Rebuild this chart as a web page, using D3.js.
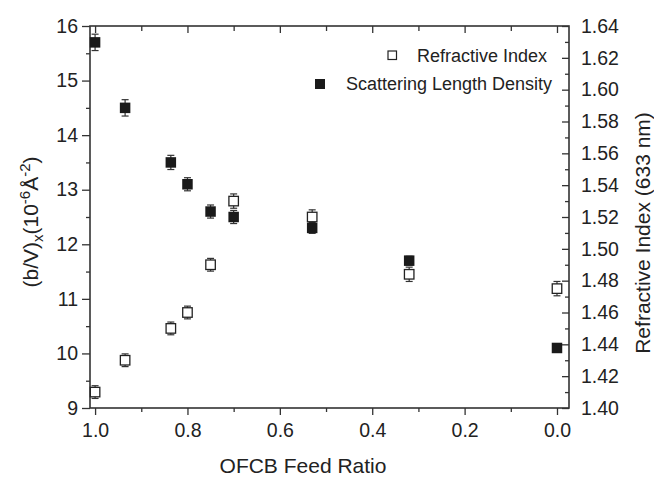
<!DOCTYPE html>
<html><head><meta charset="utf-8">
<script src="https://cdn.jsdelivr.net/npm/d3@7/dist/d3.min.js"></script>
<style>
body{margin:0;background:#fff}
svg{display:block}
text{font-family:"Liberation Sans",Arial,sans-serif;fill:#222}
</style>
</head><body><svg id="c" width="654" height="478"></svg>
<script>
// ---- data ----
const feedRatio = [1.0, 0.935, 0.836, 0.80, 0.75, 0.70, 0.53, 0.32, 0.0];
const sld       = [15.7, 14.5, 13.5, 13.1, 12.6, 12.5, 12.3, 11.7, 10.1];
const sldErr    = [0.15, 0.15, 0.13, 0.12, 0.12, 0.12, 0.10, 0.08, 0.05];
const ri        = [1.410, 1.430, 1.450, 1.460, 1.490, 1.530, 1.520, 1.484, 1.475];
const riErr     = [0.004, 0.004, 0.004, 0.004, 0.004, 0.0045, 0.0045, 0.0045, 0.0045];
const xTicks = [1.0, 0.8, 0.6, 0.4, 0.2, 0.0];
const xMinor = [0.9, 0.7, 0.5, 0.3, 0.1];
const yLTicks = [9, 10, 11, 12, 13, 14, 15, 16];
const yLMinor = [9.5, 10.5, 11.5, 12.5, 13.5, 14.5, 15.5];
const yRTicks = [1.40, 1.42, 1.44, 1.46, 1.48, 1.50, 1.52, 1.54, 1.56, 1.58, 1.60, 1.62, 1.64];
const yRMinor = [1.41, 1.43, 1.45, 1.47, 1.49, 1.51, 1.53, 1.55, 1.57, 1.59, 1.61, 1.63];
const seriesNames = ["Refractive Index", "Scattering Length Density"];

const svg = d3.select("#c");
const L = 90, R = 569, T = 26, B = 408;
const x = d3.scaleLinear().domain([1.011, -0.026]).range([L, R]);
const yL = d3.scaleLinear().domain([9, 16]).range([B, T]);
const yR = d3.scaleLinear().domain([1.40, 1.64]).range([B, T]);
const axisColor = "#333";
const tickFont = "19.5px";

function styleAxis(g){
  g.select(".domain").remove();
  g.selectAll("line").attr("stroke", axisColor).attr("stroke-width", 1.3);
  g.selectAll("text").attr("fill", "#222").style("font-family", '"Liberation Sans",Arial,sans-serif');
}

// bottom
svg.append("g").attr("transform", `translate(0,${B})`)
  .call(d3.axisBottom(x).tickValues(xTicks).tickSize(7).tickPadding(8).tickFormat(d3.format(".1f")))
  .call(styleAxis).selectAll("text").style("font-size", tickFont);
svg.append("g").attr("transform", `translate(0,${B})`)
  .call(d3.axisBottom(x).tickValues(xMinor).tickSize(4).tickFormat(""))
  .call(styleAxis);
// top (inward)
svg.append("g").attr("transform", `translate(0,${T})`)
  .call(d3.axisTop(x).tickValues(xTicks).tickSize(-7).tickFormat(""))
  .call(styleAxis);
svg.append("g").attr("transform", `translate(0,${T})`)
  .call(d3.axisTop(x).tickValues(xMinor).tickSize(-5).tickFormat(""))
  .call(styleAxis);
// left
svg.append("g").attr("transform", `translate(${L},0)`)
  .call(d3.axisLeft(yL).tickValues(yLTicks).tickSize(8).tickPadding(4).tickFormat(d3.format("d")))
  .call(styleAxis).selectAll("text").style("font-size", tickFont);
svg.append("g").attr("transform", `translate(${L},0)`)
  .call(d3.axisLeft(yL).tickValues(yLMinor).tickSize(4).tickFormat(""))
  .call(styleAxis);
// right (inward ticks)
svg.append("g").attr("transform", `translate(${R},0)`)
  .call(d3.axisRight(yR).tickValues(yRTicks).tickSize(-7).tickPadding(12).tickFormat(d3.format(".2f")))
  .call(styleAxis).selectAll("text").style("font-size", tickFont);
svg.append("g").attr("transform", `translate(${R},0)`)
  .call(d3.axisRight(yR).tickValues(yRMinor).tickSize(-4).tickFormat(""))
  .call(styleAxis);

// frame
svg.append("rect").attr("x", L).attr("y", T).attr("width", R - L).attr("height", B - T)
  .attr("fill", "none").attr("stroke", axisColor).attr("stroke-width", 1.6);

// error bars
function errBars(vals, errs, ys, color){
  const g = svg.append("g").attr("stroke", color).attr("stroke-width", 1.2).attr("fill", "none");
  feedRatio.forEach((f, i) => {
    const cx = x(f), y1 = ys(vals[i] + errs[i]), y2 = ys(vals[i] - errs[i]);
    g.append("line").attr("x1", cx).attr("x2", cx).attr("y1", y1).attr("y2", y2);
    g.append("line").attr("x1", cx - 3.5).attr("x2", cx + 3.5).attr("y1", y1).attr("y2", y1);
    g.append("line").attr("x1", cx - 3.5).attr("x2", cx + 3.5).attr("y1", y2).attr("y2", y2);
  });
}
errBars(ri, riErr, yR, "#333");
errBars(sld, sldErr, yL, "#333");

const S = 10.5;
// refractive index: open squares
svg.append("g").selectAll("rect").data(feedRatio).join("rect")
  .attr("x", (d) => x(d) - S/2 + 0.5).attr("y", (d, i) => yR(ri[i]) - S/2 + 0.5)
  .attr("width", S - 1).attr("height", S - 1)
  .attr("fill", "#fff").attr("stroke", "#222").attr("stroke-width", 1.3);
// SLD: filled squares
svg.append("g").selectAll("rect").data(feedRatio).join("rect")
  .attr("x", (d) => x(d) - S/2).attr("y", (d, i) => yL(sld[i]) - S/2)
  .attr("width", S).attr("height", S)
  .attr("fill", "#1a1a1a");

// legend
const lg = svg.append("g");
lg.append("rect").attr("x", 388).attr("y", 51).attr("width", 8.5).attr("height", 8.5)
  .attr("fill", "#fff").attr("stroke", "#222").attr("stroke-width", 1.2);
lg.append("text").attr("x", 417).attr("y", 62).style("font-size", "18px").text(seriesNames[0]);
lg.append("rect").attr("x", 315).attr("y", 79).attr("width", 10).attr("height", 10)
  .attr("fill", "#1a1a1a");
lg.append("text").attr("x", 346).attr("y", 90).style("font-size", "18px").text(seriesNames[1]);

// axis titles
svg.append("text").attr("x", 303).attr("y", 473).attr("text-anchor", "middle")
  .style("font-size", "21px").text("OFCB Feed Ratio");

svg.append("text").attr("transform", "translate(650,233) rotate(-90)")
  .attr("text-anchor", "middle").style("font-size", "21px").text("Refractive Index (633 nm)");

const lt = svg.append("text").attr("transform", "translate(38,222) rotate(-90)")
  .attr("text-anchor", "middle").style("font-size", "21px");
lt.append("tspan").text("(b/V)");
lt.append("tspan").attr("dy", 5).style("font-size", "15px").text("x");
lt.append("tspan").attr("dy", -5).text("(10");
lt.append("tspan").attr("dy", -8).style("font-size", "15px").text("-6");
lt.append("tspan").attr("dy", 8).text("Å");
lt.append("tspan").attr("dy", -8).style("font-size", "15px").text("-2");
lt.append("tspan").attr("dy", 8).text(")");
</script></body></html>
